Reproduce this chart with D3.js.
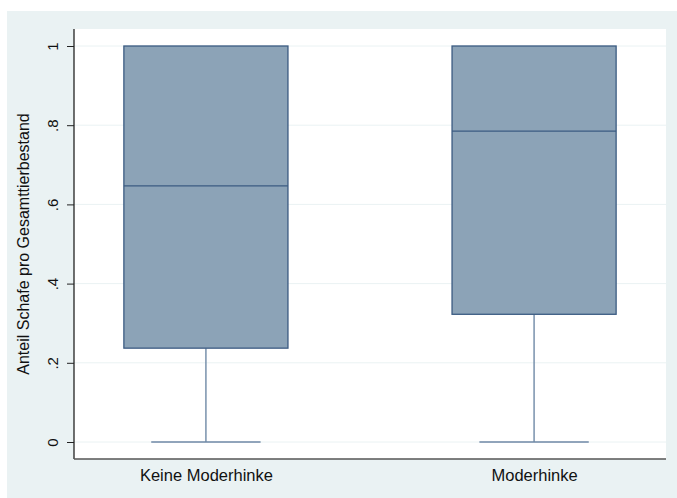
<!DOCTYPE html>
<html>
<head>
<meta charset="utf-8">
<script src="https://cdn.jsdelivr.net/npm/d3@7"></script>
<style>
  html, body { margin: 0; padding: 0; background: #ffffff; }
  svg { display: block; font-family: "Liberation Sans", Arial, sans-serif; }
</style>
</head>
<body>
<svg id="chart" width="677" height="498"></svg>
<script>
// Groups and their box-plot summaries (share of sheep in total livestock)
const groups = ["Keine Moderhinke", "Moderhinke"];
const lowerWhisker = [0, 0];
const q1 = [0.237, 0.3225];
const median = [0.647, 0.785];
const q3 = [1, 1];
const upperWhisker = [1, 1];
const yTicks = [0, 0.2, 0.4, 0.6, 0.8, 1];
const yTickLabels = ["0", ".2", ".4", ".6", ".8", "1"];
const yTitle = "Anteil Schafe pro Gesamttierbestand";

const svg = d3.select("#chart");
const W = 677, H = 498;
const plot = { left: 74, right: 666, top: 29, bottom: 459 };

// Outer graph region
svg.append("rect").attr("x", 7).attr("y", 11).attr("width", W - 7).attr("height", H - 11)
  .attr("fill", "#eaf2f3");
// Plot region
svg.append("rect").attr("x", plot.left).attr("y", plot.top)
  .attr("width", plot.right - plot.left).attr("height", plot.bottom - plot.top)
  .attr("fill", "#ffffff");

const y = d3.scaleLinear().domain([0, 1]).range([442, 46]);
const x = d3.scalePoint().domain(groups).range([plot.left, plot.right]).padding(0.402);
const step = x.step();
const boxW = step / 2;
const capW = step / 3;

// Horizontal grid lines
svg.append("g").selectAll("line").data(yTicks).join("line")
  .attr("x1", plot.left).attr("x2", plot.right)
  .attr("y1", d => y(d)).attr("y2", d => y(d))
  .attr("stroke", "#eaf2f3").attr("stroke-width", 1);

// Y axis
const yAxis = d3.axisLeft(y).tickValues(yTicks)
  .tickFormat((d, i) => yTickLabels[i]).tickSize(7).tickSizeOuter(0);
const gy = svg.append("g").attr("transform", `translate(${plot.left},0)`).call(yAxis);
gy.select(".domain").remove();
gy.selectAll(".tick line").attr("stroke", "#222").attr("stroke-width", 1);
gy.selectAll(".tick text")
  .attr("transform", "rotate(-90)")
  .attr("x", 0).attr("y", -16).attr("dy", "0")
  .attr("text-anchor", "middle")
  .attr("font-size", 15).attr("fill", "#111")
  .attr("font-family", "'Liberation Sans', Arial, sans-serif");
svg.append("line").attr("x1", plot.left).attr("x2", plot.left)
  .attr("y1", plot.top).attr("y2", plot.bottom).attr("stroke", "#222").attr("stroke-width", 1.3);

// X axis
const xAxis = d3.axisBottom(x).tickSize(0).tickSizeOuter(0);
const gx = svg.append("g").attr("transform", `translate(0,${plot.bottom})`).call(xAxis);
gx.select(".domain").remove();
gx.selectAll(".tick text").attr("y", 22).attr("dy", "0")
  .attr("font-size", 16.5).attr("fill", "#111")
  .attr("font-family", "'Liberation Sans', Arial, sans-serif");
svg.append("line").attr("x1", plot.left).attr("x2", plot.right)
  .attr("y1", plot.bottom).attr("y2", plot.bottom).attr("stroke", "#555").attr("stroke-width", 1.3);

// Y title
svg.append("text")
  .attr("transform", `translate(29,${(y(0) + y(1)) / 2}) rotate(-90)`)
  .attr("text-anchor", "middle")
  .attr("font-size", 16).attr("fill", "#111")
  .text(yTitle);

// Boxes
const data = groups.map((g, i) => ({
  g, lo: lowerWhisker[i], q1: q1[i], med: median[i], q3: q3[i], hi: upperWhisker[i]
}));
const boxes = svg.append("g").selectAll("g").data(data).join("g");
const whiskerColor = "#6f89a6";
const boxStroke = "#3b5b82";

boxes.append("line")
  .attr("x1", d => x(d.g)).attr("x2", d => x(d.g))
  .attr("y1", d => y(d.lo)).attr("y2", d => y(d.q1))
  .attr("stroke", whiskerColor).attr("stroke-width", 1.4);
boxes.append("line")
  .attr("x1", d => x(d.g)).attr("x2", d => x(d.g))
  .attr("y1", d => y(d.q3)).attr("y2", d => y(d.hi))
  .attr("stroke", whiskerColor).attr("stroke-width", 1.4);
boxes.append("line")
  .attr("x1", d => x(d.g) - capW / 2).attr("x2", d => x(d.g) + capW / 2)
  .attr("y1", d => y(d.lo)).attr("y2", d => y(d.lo))
  .attr("stroke", whiskerColor).attr("stroke-width", 1.4);
boxes.append("rect")
  .attr("x", d => x(d.g) - boxW / 2).attr("width", boxW)
  .attr("y", d => y(d.q3)).attr("height", d => y(d.q1) - y(d.q3))
  .attr("fill", "#8ca3b7").attr("stroke", boxStroke).attr("stroke-width", 1.3);
boxes.append("line")
  .attr("x1", d => x(d.g) - boxW / 2).attr("x2", d => x(d.g) + boxW / 2)
  .attr("y1", d => y(d.med)).attr("y2", d => y(d.med))
  .attr("stroke", boxStroke).attr("stroke-width", 1.3);
</script>
</body>
</html>
